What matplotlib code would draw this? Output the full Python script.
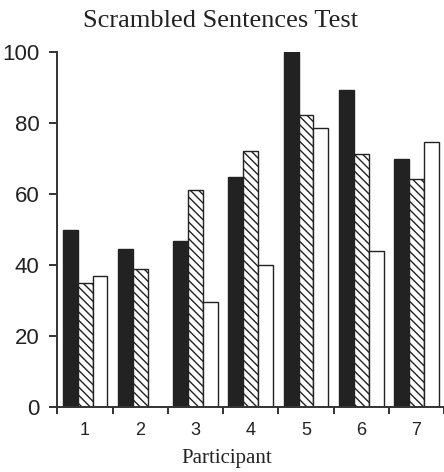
import numpy as np
import matplotlib
matplotlib.use("Agg")
import matplotlib.pyplot as plt

participants = ["1", "2", "3", "4", "5", "6", "7"]
series_a = [50.0, 44.5, 46.8, 64.9, 100.0, 89.2, 69.8]   # solid black
series_b = [35.0, 38.9, 61.2, 72.2, 82.4, 71.4, 64.3]    # hatched
series_c = [36.9, 0.0, 29.5, 40.1, 78.6, 44.0, 74.8]     # white
y_ticks = [0, 20, 40, 60, 80, 100]

plt.rcParams["hatch.linewidth"] = 1.0
plt.rcParams["hatch.color"] = "#222222"

fig = plt.figure(figsize=(4.44, 4.72), dpi=100)
ax = fig.add_axes([0.1295, 0.1377, 0.8705, 0.752])

x = np.arange(len(participants))
w = 0.27
edge = "#222222"
ax.bar(x - w, series_a, w, color="#222222", edgecolor=edge, linewidth=1.0)
ax.bar(x, series_b, w, color="white", edgecolor=edge, linewidth=1.0, hatch="\\\\\\\\")
ax.bar(x + w, series_c, w, color="white", edgecolor=edge, linewidth=1.0)

ax.set_xlim(-0.5, len(participants) - 0.5)
ax.set_ylim(0, 100)

ax.spines["top"].set_visible(False)
ax.spines["right"].set_visible(False)
for s in ("left", "bottom"):
    ax.spines[s].set_color("#333333")
    ax.spines[s].set_linewidth(1.4)

ax.set_yticks(y_ticks)
ax.set_yticklabels([str(v) for v in y_ticks], fontsize=16, family="Liberation Sans", color="#222222")
ax.tick_params(axis="y", direction="out", length=6, width=1.4, color="#333333", pad=7)

# group boundaries get the tick marks, group centres get the labels
ax.set_xticks(np.arange(-0.5, len(participants)))
ax.set_xticklabels([])
ax.tick_params(axis="x", which="major", direction="out", length=5, width=1.4, color="#333333")
ax.set_xticks(x, minor=True)
ax.set_xticklabels(participants, minor=True, fontsize=13, family="Liberation Sans", color="#222222")
ax.tick_params(axis="x", which="minor", length=0, pad=11)

fig.text(227 / 444, 0.019, "Participant", family="Liberation Serif", fontsize=15,
         color="#222222", ha="center", va="baseline")
fig.text(221 / 444, 0.943, "Scrambled Sentences Test", family="Liberation Serif", fontsize=19,
         color="#222222", ha="center", va="baseline")

fig.savefig("out.png", dpi=100)
